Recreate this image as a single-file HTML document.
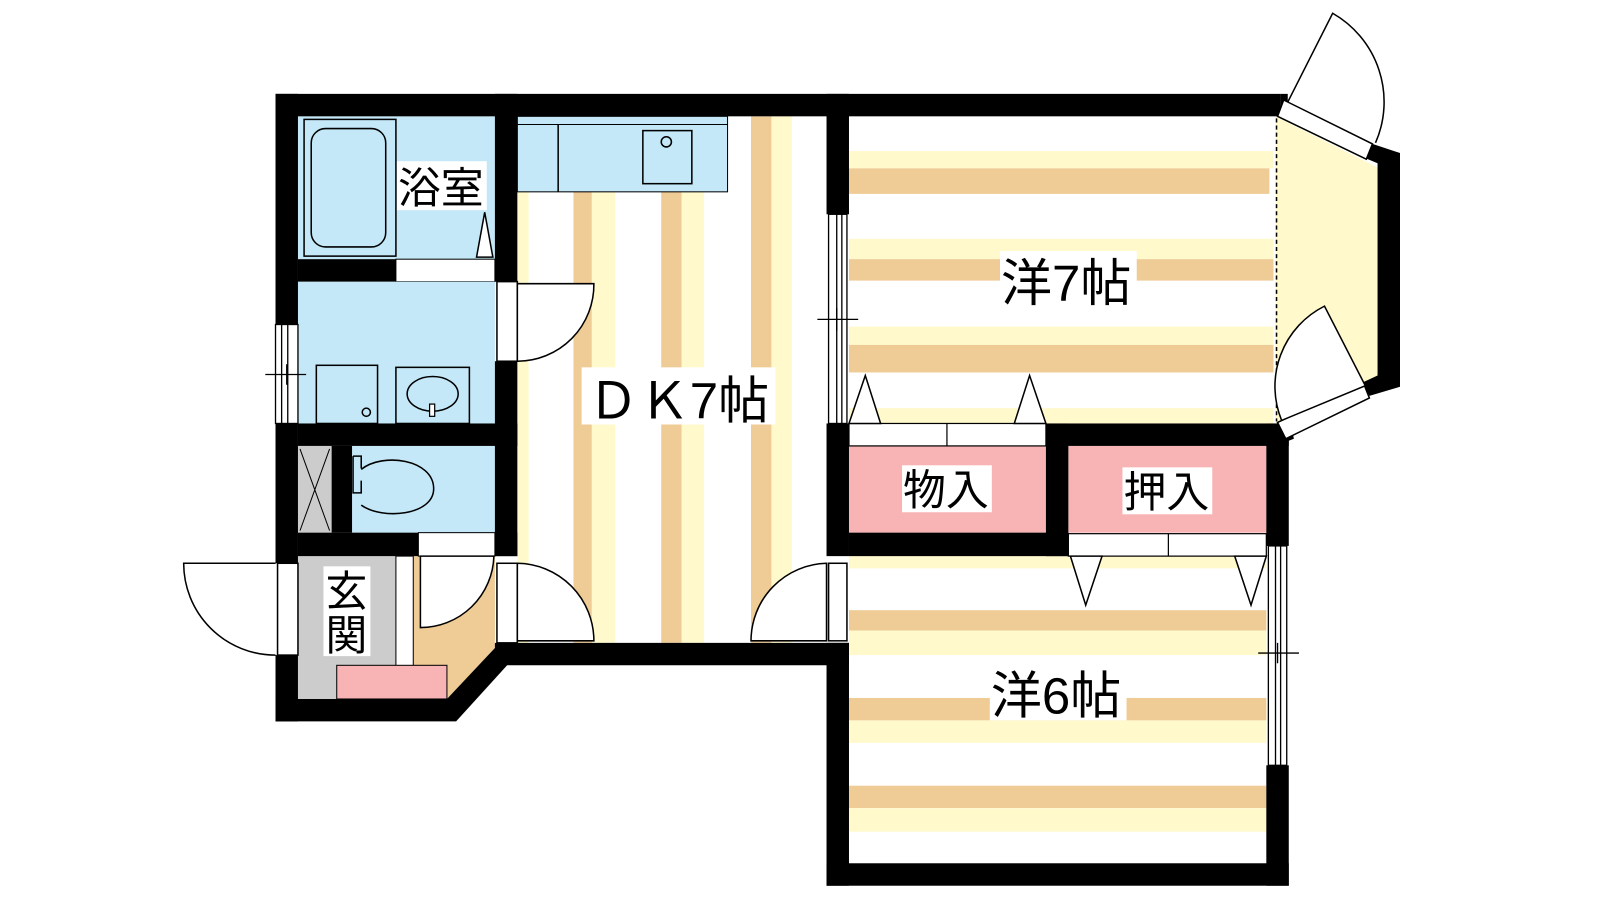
<!DOCTYPE html>
<html><head><meta charset="utf-8"><style>
html,body{margin:0;padding:0;background:#fff;}
svg{display:block}
text{font-family:"Liberation Sans","Noto Sans CJK JP",sans-serif;fill:#000}
</style></head><body>
<svg width="1600" height="900" viewBox="0 0 1568 882" xmlns="http://www.w3.org/2000/svg">
<rect width="1568" height="882" fill="#fff"/>
<g>
<rect x="507" y="114" width="11" height="516" fill="#fff9cc"/>
<rect x="562" y="114" width="18" height="516" fill="#efcb95"/>
<rect x="580" y="114" width="23" height="516" fill="#fff9cc"/>
<rect x="648" y="114" width="20" height="516" fill="#efcb95"/>
<rect x="668" y="114" width="22" height="516" fill="#fff9cc"/>
<rect x="736" y="114" width="20" height="516" fill="#efcb95"/>
<rect x="756" y="114" width="20" height="516" fill="#fff9cc"/>
</g>
<polygon points="1250,114 1350,164 1350,371 1262,415 1250,415" fill="#fff9cc"/>
<rect x="832" y="148" width="416" height="17" fill="#fff9cc"/>
<rect x="832" y="165" width="412" height="25" fill="#efcb95"/>
<rect x="832" y="234" width="416" height="20" fill="#fff9cc"/>
<rect x="832" y="254" width="416" height="21" fill="#efcb95"/>
<rect x="832" y="320" width="416" height="18" fill="#fff9cc"/>
<rect x="832" y="338" width="416" height="27" fill="#efcb95"/>
<rect x="832" y="400" width="416" height="15" fill="#fff9cc"/>
<line x1="1251" y1="116" x2="1251" y2="413" stroke="#000" stroke-width="1.5" stroke-dasharray="4,3"/>
<rect x="832" y="545" width="409" height="12" fill="#fff9cc"/>
<rect x="832" y="598" width="409" height="20" fill="#efcb95"/>
<rect x="832" y="618" width="409" height="24" fill="#fff9cc"/>
<rect x="832" y="684" width="409" height="22" fill="#efcb95"/>
<rect x="832" y="706" width="409" height="22" fill="#fff9cc"/>
<rect x="832" y="770" width="409" height="22" fill="#efcb95"/>
<rect x="832" y="792" width="409" height="23" fill="#fff9cc"/>
<rect x="292" y="114" width="193" height="140" fill="#c4e8f8"/>
<rect x="298" y="117" width="90" height="134" fill="#c4e8f8" stroke="#000" stroke-width="1.5"/>
<rect x="305" y="126" width="73" height="116" rx="14" fill="none" stroke="#000" stroke-width="1.5"/>
<polygon points="467,252 475,208 483,252" fill="#fff" stroke="#000" stroke-width="1.5"/>
<rect x="388" y="254" width="97" height="22" fill="#fff" stroke="#000" stroke-width="1"/>
<rect x="292" y="276" width="193" height="139" fill="#c4e8f8"/>
<rect x="310" y="358" width="60" height="57" fill="none" stroke="#000" stroke-width="1.5"/>
<circle cx="359" cy="404" r="4" fill="none" stroke="#000" stroke-width="1.5"/>
<rect x="388" y="360" width="72" height="55" fill="none" stroke="#000" stroke-width="1.5"/>
<ellipse cx="424" cy="386" rx="25" ry="17" fill="none" stroke="#000" stroke-width="1.5"/>
<rect x="421" y="396" width="5" height="12" fill="#fff" stroke="#000" stroke-width="1.2"/>
<rect x="507" y="114" width="206" height="74" fill="#c4e8f8" stroke="#000" stroke-width="1"/>
<line x1="507" y1="122" x2="713" y2="122" stroke="#000" stroke-width="1"/>
<line x1="547" y1="122" x2="547" y2="188" stroke="#000" stroke-width="1.5"/>
<rect x="630" y="128" width="48" height="52" fill="none" stroke="#000" stroke-width="1.5"/>
<circle cx="653" cy="139" r="5" fill="none" stroke="#000" stroke-width="1.5"/>
<rect x="292" y="437" width="33" height="85" fill="#ccc"/>
<path d="M294,440 L323,520 M323,440 L294,520" stroke="#000" stroke-width="1"/>
<rect x="345" y="437" width="140" height="85" fill="#c4e8f8"/>
<path d="M346,447 h8 v12 M346,447 v36 h8 v-12" fill="none" stroke="#000" stroke-width="1.5"/>
<path d="M354,460 C375,443 425,450 425,479 C425,505 375,510 354,495" fill="none" stroke="#000" stroke-width="1.5"/>
<rect x="292" y="545" width="113" height="140" fill="#ccc"/>
<polygon points="405,545 485,545 485,635 438,685 405,685" fill="#efcb95"/>
<rect x="388" y="545" width="17" height="108" fill="#fff" stroke="#000" stroke-width="1"/>
<rect x="330" y="652" width="108" height="33" fill="#f8b4b4" stroke="#000" stroke-width="1"/>
<rect x="410" y="522" width="75" height="23" fill="#fff" stroke="#000" stroke-width="1"/>
<path d="M412,545 L412,615 A72,72 0 0 0 484,545 Z" fill="#fff" stroke="#000" stroke-width="1.5"/>
<rect x="832" y="437" width="193" height="85" fill="#f8b4b4"/>
<rect x="1047" y="437" width="194" height="85" fill="#f8b4b4"/>
<rect x="832" y="415" width="193" height="22" fill="#fff" stroke="#000" stroke-width="1.2"/>
<line x1="928" y1="415" x2="928" y2="437" stroke="#000" stroke-width="1.2"/>
<rect x="1047" y="523" width="194" height="22" fill="#fff" stroke="#000" stroke-width="1.2"/>
<line x1="1145" y1="523" x2="1145" y2="545" stroke="#000" stroke-width="1.2"/>
<polygon points="832,415 848,368 863,415" fill="#fff" stroke="#000" stroke-width="1.5"/>
<polygon points="994,415 1009,368 1025,415" fill="#fff" stroke="#000" stroke-width="1.5"/>
<polygon points="1049,545 1064,593 1080,545" fill="#fff" stroke="#000" stroke-width="1.5"/>
<polygon points="1210,545 1226,593 1241,545" fill="#fff" stroke="#000" stroke-width="1.5"/>
<g fill="#000">
<rect x="270" y="92" width="985" height="22"/>
<rect x="270" y="92" width="22" height="226"/>
<rect x="270" y="415" width="22" height="137"/>
<rect x="270" y="642" width="22" height="65"/>
<polygon points="270,685 438,685 485,635 485,630 832,630 832,652 497,652 447,707 270,707"/>
<rect x="292" y="254" width="96" height="22"/>
<rect x="485" y="92" width="22" height="184"/>
<rect x="485" y="354" width="22" height="191"/>
<rect x="292" y="415" width="215" height="22"/>
<rect x="325" y="437" width="20" height="85"/>
<rect x="292" y="522" width="118" height="23"/>
<rect x="485" y="522" width="22" height="23"/>
<rect x="810" y="92" width="22" height="118"/>
<rect x="810" y="415" width="22" height="130"/>
<rect x="810" y="630" width="22" height="238"/>
<rect x="810" y="846" width="453" height="22"/>
<rect x="1025" y="415" width="22" height="130"/>
<rect x="832" y="522" width="215" height="23"/>
<rect x="1025" y="415" width="238" height="22"/>
<rect x="1241" y="415" width="22" height="120"/>
<rect x="1241" y="750" width="22" height="118"/>
<polygon points="1342,140 1372,150 1372,379 1342,388 1335,375 1350,368 1350,160 1338,155"/>
<polygon points="1255,92 1262,92 1262,116 1255,116"/>
<polygon points="1250,415 1265,415 1268,430 1255,435"/>
</g>
<polygon points="1258,98 1345,141 1339,156 1252,114" fill="#fff" stroke="#000" stroke-width="1.5"/>
<path d="M1262,100 L1306,13 A100,100 0 0 1 1348,140" fill="none" stroke="#000" stroke-width="1.5"/>
<polygon points="1252,414 1336,375 1342,390 1260,430" fill="#fff" stroke="#000" stroke-width="1.5"/>
<path d="M1338,378 L1298,300 A88,88 0 0 0 1256,412 Z" fill="#fff" stroke="#000" stroke-width="1.5"/>
<g fill="#fff" stroke="#000" stroke-width="1.3">
<rect x="270" y="318" width="22" height="97"/>
<line x1="282" y1="318" x2="282" y2="415"/>
<line x1="276" y1="318" x2="276" y2="415"/>
<rect x="812" y="210" width="18" height="205"/>
<line x1="820" y1="210" x2="820" y2="415"/><line x1="825" y1="210" x2="825" y2="415"/>
<rect x="1243" y="535" width="18" height="215"/>
<line x1="1250" y1="535" x2="1250" y2="750"/><line x1="1255" y1="535" x2="1255" y2="750"/>
</g>
<path d="M260,367 H300 M281,357 V377 M801,313 H841 M820,302 V324 M1233,640 H1273 M1252,630 V650" stroke="#000" stroke-width="1.3"/>
<g fill="#fff" stroke="#000" stroke-width="1.5">
<rect x="487" y="276" width="20" height="78"/>
<path d="M507,354 V278 H582 A75,75 0 0 1 507,354 Z"/>
<rect x="487" y="552" width="20" height="78"/>
<path d="M507,552 V628 H582 A76,76 0 0 0 507,552 Z"/>
<rect x="812" y="552" width="18" height="76"/>
<path d="M810,552 V628 H736 A76,76 0 0 1 810,552 Z"/>
<rect x="272" y="552" width="20" height="90"/>
<path d="M270,552 H180 A90,90 0 0 0 270,642"/>
</g>
<g>
<rect x="389" y="158" width="88" height="48" fill="#fff"/>
<text x="390" y="199" font-size="42">浴室</text>
<rect x="570" y="360" width="190" height="56" fill="#fff"/>
<text x="576" y="410" font-size="50">ＤＫ7帖</text>
<rect x="980" y="246" width="134" height="56" fill="#fff"/>
<text x="981" y="295" font-size="50">洋7帖</text>
<rect x="970" y="650" width="134" height="56" fill="#fff"/>
<text x="971" y="699" font-size="50">洋6帖</text>
<rect x="884" y="456" width="88" height="46" fill="#fff"/>
<text x="885" y="495" font-size="42">物入</text>
<rect x="1100" y="458" width="88" height="46" fill="#fff"/>
<text x="1101" y="497" font-size="42">押入</text>
<rect x="317" y="555" width="46" height="88" fill="#fff"/>
<text x="319" y="594" font-size="41">玄</text>
<text x="319" y="637" font-size="41">関</text>
</g>
</svg>
</body></html>
